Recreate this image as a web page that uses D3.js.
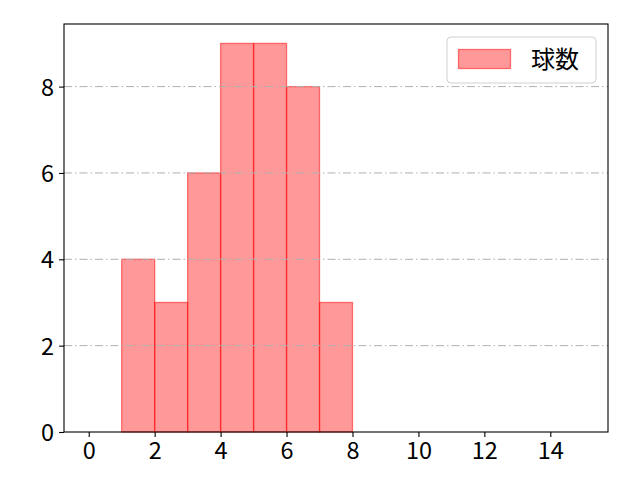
<!DOCTYPE html>
<html><head><meta charset="utf-8">
<script src="https://cdn.jsdelivr.net/npm/d3@7"></script>
<style>body{margin:0;background:#fff}text{font-family:"Noto Sans CJK JP","DejaVu Sans",sans-serif}</style>
</head><body>
<svg id="c" width="640" height="480"></svg>
<script>
const binStarts = [0,1,2,3,4,5,6,7,8,9,10,11,12,13,14];
const counts    = [0,4,3,6,9,9,8,3,0,0,0,0,0,0,0];
const xTicks = [0,2,4,6,8,10,12,14];
const yTicks = [0,2,4,6,8];
const seriesName = "球数";

const svg = d3.select("#c");
const L=64, R=608, T=24, B=432;
const x = d3.scaleLinear().domain([-0.75,15.75]).range([L,R]);
const y = d3.scaleLinear().domain([0,9.45]).range([B,T]);

const data = binStarts.map((s,i)=>({x0:s,x1:s+1,v:counts[i]})).filter(d=>d.v>0);
svg.append("g").selectAll("rect").data(data).join("rect")
  .attr("x",d=>x(d.x0)).attr("width",d=>x(d.x1)-x(d.x0))
  .attr("y",d=>y(d.v)).attr("height",d=>y(0)-y(d.v))
  .attr("fill","rgba(255,0,0,0.4)").attr("stroke","rgba(255,0,0,0.5)").attr("stroke-width",1.3);

// grid
svg.append("g").selectAll("line").data(yTicks.filter(t=>t>0)).join("line")
  .attr("x1",L).attr("x2",R).attr("y1",d=>y(d)).attr("y2",d=>y(d))
  .attr("stroke","#b0b0b0").attr("stroke-width",1).attr("stroke-dasharray","8,3,1.5,3");

// axes
const fs = 23.5;
const xa = svg.append("g").attr("transform",`translate(0,${B})`)
  .call(d3.axisBottom(x).tickValues(xTicks).tickSize(4.9).tickPadding(5).tickFormat(d3.format("d")));
const ya = svg.append("g").attr("transform",`translate(${L},0)`)
  .call(d3.axisLeft(y).tickValues(yTicks).tickSize(4.9).tickPadding(5).tickFormat(d3.format("d")));
[xa,ya].forEach(g=>{g.select(".domain").remove();g.selectAll("line").attr("stroke","#000").attr("stroke-width",1.1);
  g.selectAll("text").style("font-size",fs+"px").attr("fill","#000").style("font-family",'"Noto Sans CJK JP",sans-serif');});
ya.selectAll("text").attr("dy","0.36em");

svg.append("rect").attr("x",L).attr("y",T).attr("width",R-L).attr("height",B-T)
  .attr("fill","none").attr("stroke","#000").attr("stroke-width",1.1);

// legend
const lg = svg.append("g");
lg.append("rect").attr("x",447).attr("y",37).attr("width",149).attr("height",46).attr("rx",4)
  .attr("fill","rgba(255,255,255,0.8)").attr("stroke","#d0d0d0").attr("stroke-width",1);
lg.append("rect").attr("x",458.5).attr("y",49.5).attr("width",52).attr("height",19)
  .attr("fill","rgba(255,0,0,0.4)").attr("stroke","rgba(255,0,0,0.5)").attr("stroke-width",1.3);
lg.append("text").attr("x",531).attr("y",68).style("font-size","24px").attr("fill","#000").text(seriesName);
</script>
</body></html>
